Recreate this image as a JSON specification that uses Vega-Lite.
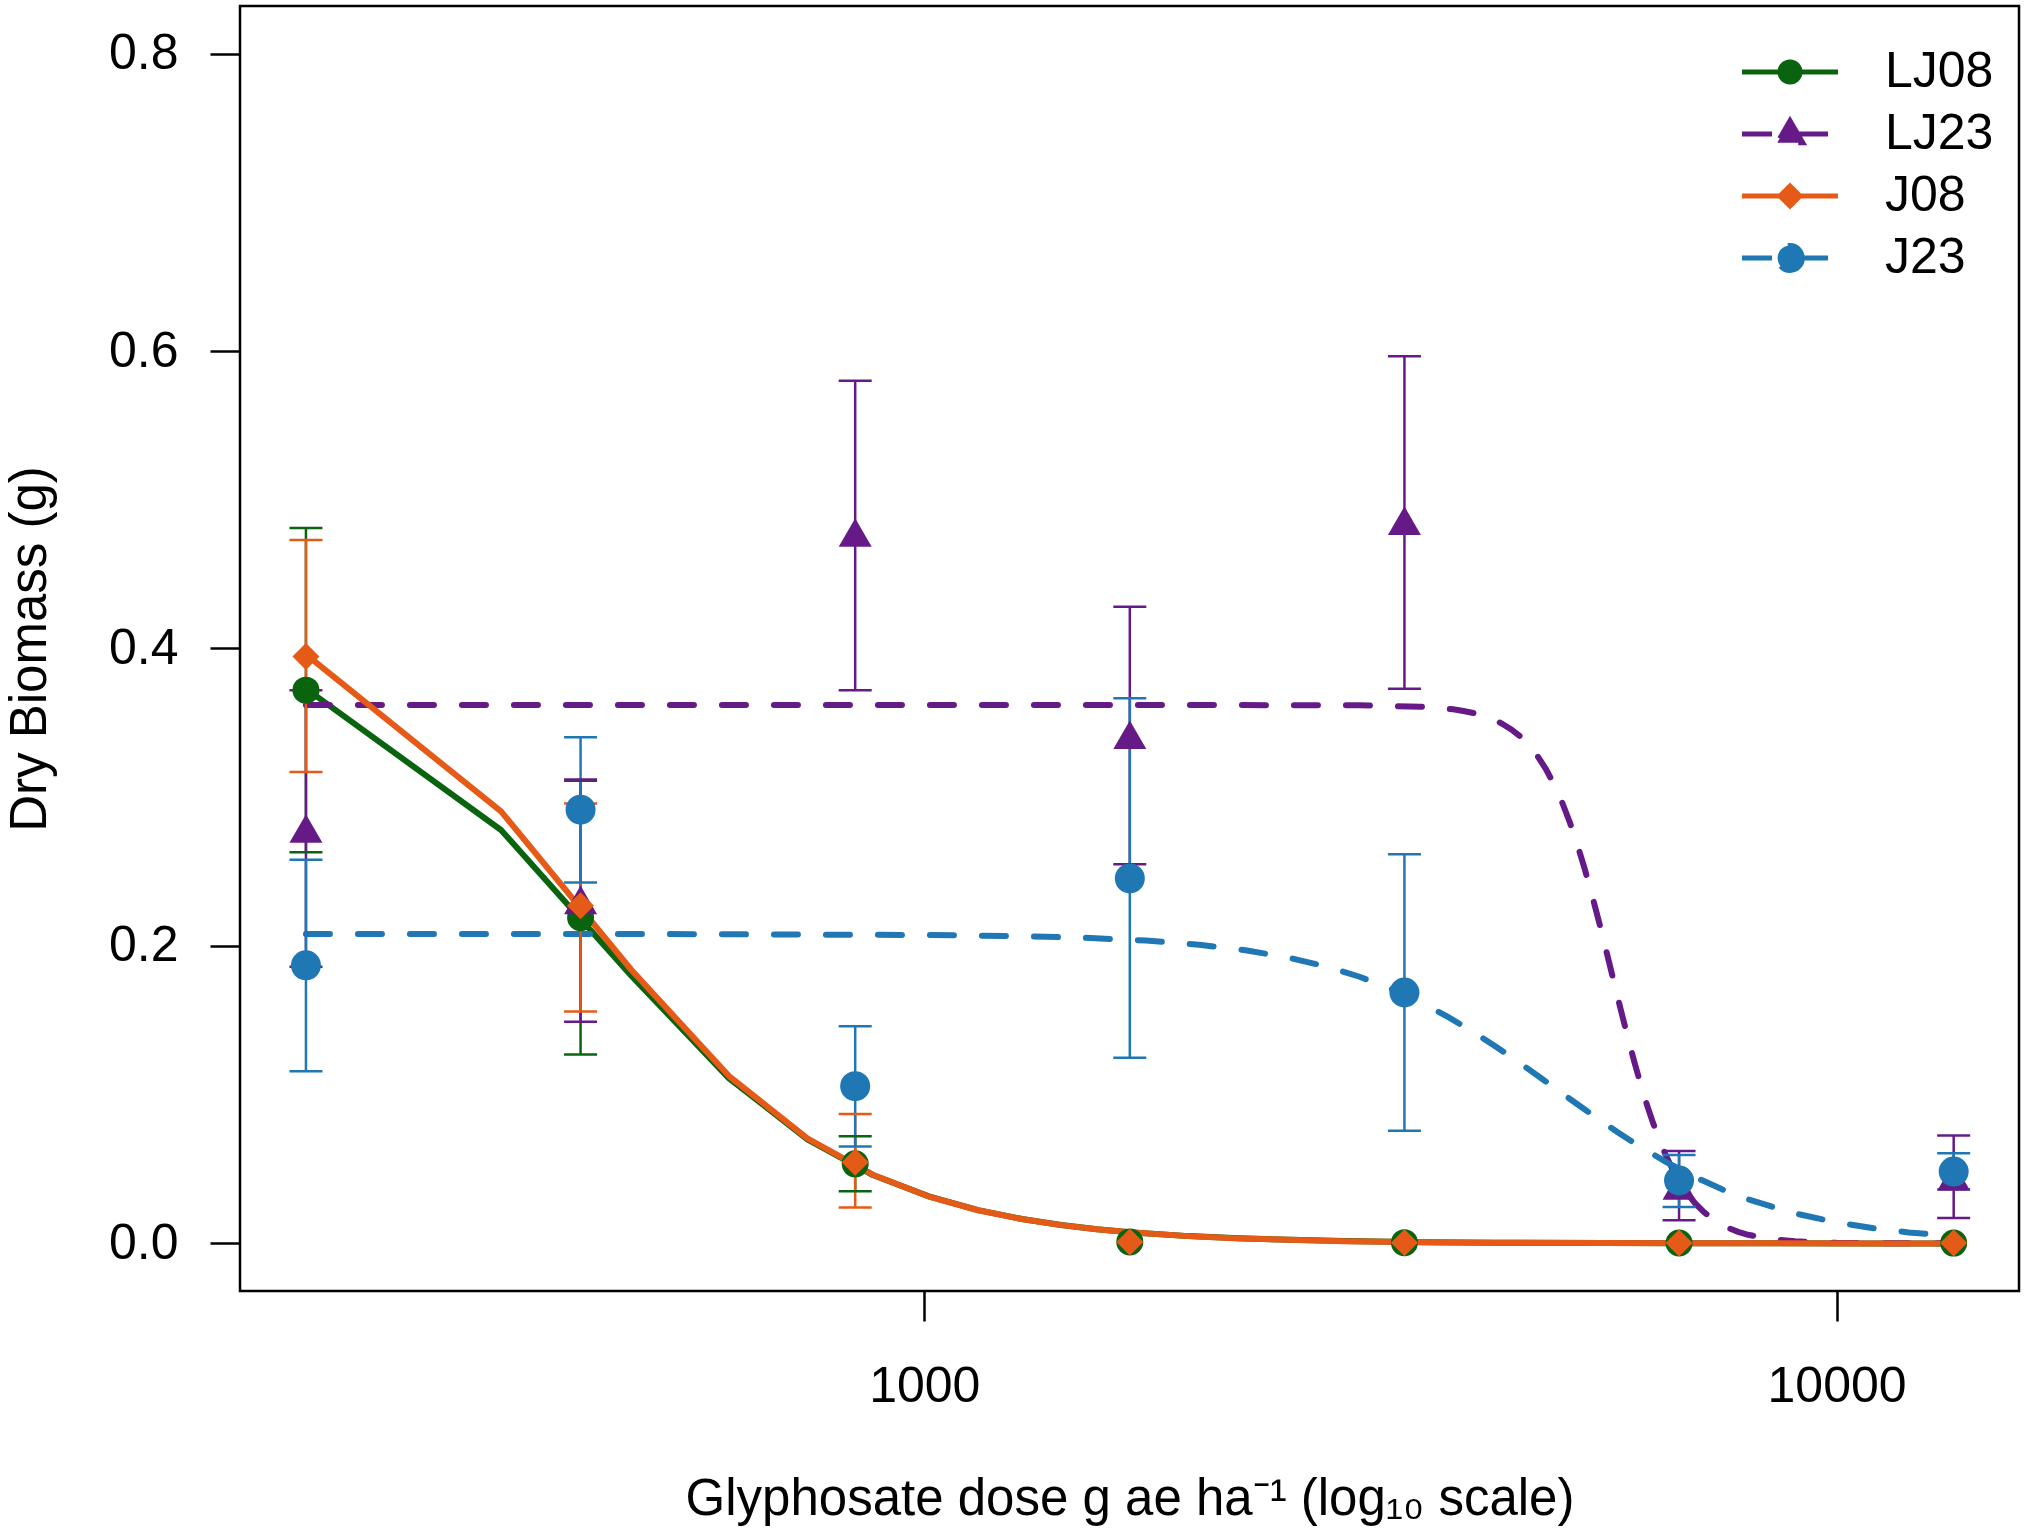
{
  "$schema": "https://vega.github.io/schema/vega-lite/v6.json",
  "width": 1779,
  "height": 1285,
  "autosize": {"type": "none"},
  "padding": {"left": 240, "top": 6, "right": 6, "bottom": 242},
  "background": "white",
  "config": {
    "font": "Liberation Sans",
    "view": {"stroke": "black", "strokeWidth": 2.5},
    "axis": {
      "labelFont": "Liberation Sans", "titleFont": "Liberation Sans",
      "labelFontSize": 50, "titleFontSize": 51, "titleFontWeight": "normal",
      "labelColor": "black", "titleColor": "black", "tickColor": "black",
      "tickWidth": 2.5, "tickSize": 30, "domain": false, "grid": false
    }
  },
  "datasets": {
    "pts": [
      {"series": "LJ08", "dose": 210, "mean": 0.372, "lo": 0.263, "hi": 0.481},
      {"series": "LJ08", "dose": 420, "mean": 0.219, "lo": 0.127, "hi": 0.311},
      {"series": "LJ08", "dose": 840, "mean": 0.0535, "lo": 0.035, "hi": 0.072},
      {"series": "LJ08", "dose": 1680, "mean": 0.001, "lo": null, "hi": null},
      {"series": "LJ08", "dose": 3360, "mean": 0.0005, "lo": null, "hi": null},
      {"series": "LJ08", "dose": 6720, "mean": 0.0003, "lo": null, "hi": null},
      {"series": "LJ08", "dose": 13440, "mean": 0.0002, "lo": null, "hi": null},
      {"series": "LJ23", "dose": 210, "mean": 0.279, "lo": 0.186, "hi": 0.372},
      {"series": "LJ23", "dose": 420, "mean": 0.231, "lo": 0.149, "hi": 0.312},
      {"series": "LJ23", "dose": 840, "mean": 0.478, "lo": 0.372, "hi": 0.58},
      {"series": "LJ23", "dose": 1680, "mean": 0.342, "lo": 0.255, "hi": 0.428},
      {"series": "LJ23", "dose": 3360, "mean": 0.486, "lo": 0.373, "hi": 0.5965},
      {"series": "LJ23", "dose": 6720, "mean": 0.039, "lo": 0.0156, "hi": 0.0622},
      {"series": "LJ23", "dose": 13440, "mean": 0.045, "lo": 0.0171, "hi": 0.0725},
      {"series": "J08", "dose": 210, "mean": 0.3946, "lo": 0.317, "hi": 0.473},
      {"series": "J08", "dose": 420, "mean": 0.227, "lo": 0.156, "hi": 0.2957},
      {"series": "J08", "dose": 840, "mean": 0.0545, "lo": 0.0242, "hi": 0.087},
      {"series": "J08", "dose": 1680, "mean": 0.001, "lo": null, "hi": null},
      {"series": "J08", "dose": 3360, "mean": 0.0005, "lo": null, "hi": null},
      {"series": "J08", "dose": 6720, "mean": 0.0003, "lo": null, "hi": null},
      {"series": "J08", "dose": 13440, "mean": 0.0002, "lo": null, "hi": null},
      {"series": "J23", "dose": 210, "mean": 0.187, "lo": 0.1157, "hi": 0.258},
      {"series": "J23", "dose": 420, "mean": 0.2916, "lo": 0.2427, "hi": 0.3403},
      {"series": "J23", "dose": 840, "mean": 0.1057, "lo": 0.0652, "hi": 0.146},
      {"series": "J23", "dose": 1680, "mean": 0.2454, "lo": 0.1248, "hi": 0.3665},
      {"series": "J23", "dose": 3360, "mean": 0.1687, "lo": 0.0757, "hi": 0.2617},
      {"series": "J23", "dose": 6720, "mean": 0.0423, "lo": 0.0245, "hi": 0.0595},
      {"series": "J23", "dose": 13440, "mean": 0.0483, "lo": 0.0364, "hi": 0.0607}
    ],
    "fit": [
      {"series": "LJ08", "dose": 210, "fit": 0.373},
      {"series": "LJ08", "dose": 343.6, "fit": 0.278},
      {"series": "LJ08", "dose": 477.3, "fit": 0.18},
      {"series": "LJ08", "dose": 610.9, "fit": 0.111},
      {"series": "LJ08", "dose": 744.5, "fit": 0.07},
      {"series": "LJ08", "dose": 878.2, "fit": 0.046},
      {"series": "LJ08", "dose": 1011.8, "fit": 0.0316},
      {"series": "LJ08", "dose": 1145.5, "fit": 0.0224},
      {"series": "LJ08", "dose": 1279.1, "fit": 0.0164},
      {"series": "LJ08", "dose": 1412.7, "fit": 0.0124},
      {"series": "LJ08", "dose": 1546.4, "fit": 0.0095},
      {"series": "LJ08", "dose": 1680, "fit": 0.0075},
      {"series": "LJ08", "dose": 1947.3, "fit": 0.0049},
      {"series": "LJ08", "dose": 2214.5, "fit": 0.0034},
      {"series": "LJ08", "dose": 2882.7, "fit": 0.0016},
      {"series": "LJ08", "dose": 3550.9, "fit": 0.0008},
      {"series": "LJ08", "dose": 4219.1, "fit": 0.0005},
      {"series": "LJ08", "dose": 5555.5, "fit": 0.0002},
      {"series": "LJ08", "dose": 6891.8, "fit": 0.0001},
      {"series": "LJ08", "dose": 8228.2, "fit": 0.0001},
      {"series": "LJ08", "dose": 10900.9, "fit": 0},
      {"series": "LJ08", "dose": 13440, "fit": 0},
      {"series": "J08", "dose": 210, "fit": 0.396},
      {"series": "J08", "dose": 343.6, "fit": 0.2905},
      {"series": "J08", "dose": 477.3, "fit": 0.184},
      {"series": "J08", "dose": 610.9, "fit": 0.1125},
      {"series": "J08", "dose": 744.5, "fit": 0.0706},
      {"series": "J08", "dose": 878.2, "fit": 0.0462},
      {"series": "J08", "dose": 1011.8, "fit": 0.0315},
      {"series": "J08", "dose": 1145.5, "fit": 0.0223},
      {"series": "J08", "dose": 1279.1, "fit": 0.0164},
      {"series": "J08", "dose": 1412.7, "fit": 0.0123},
      {"series": "J08", "dose": 1546.4, "fit": 0.0095},
      {"series": "J08", "dose": 1680, "fit": 0.0075},
      {"series": "J08", "dose": 1947.3, "fit": 0.0049},
      {"series": "J08", "dose": 2214.5, "fit": 0.0033},
      {"series": "J08", "dose": 2882.7, "fit": 0.0015},
      {"series": "J08", "dose": 3550.9, "fit": 0.0008},
      {"series": "J08", "dose": 4219.1, "fit": 0.0005},
      {"series": "J08", "dose": 5555.5, "fit": 0.0002},
      {"series": "J08", "dose": 6891.8, "fit": 0.0001},
      {"series": "J08", "dose": 8228.2, "fit": 0.0001},
      {"series": "J08", "dose": 10900.9, "fit": 0},
      {"series": "J08", "dose": 13440, "fit": 0},
      {"series": "LJ23", "dose": 210, "fit": 0.362},
      {"series": "LJ23", "dose": 1000, "fit": 0.362},
      {"series": "LJ23", "dose": 2000, "fit": 0.362},
      {"series": "LJ23", "dose": 3000, "fit": 0.3618},
      {"series": "LJ23", "dose": 3500, "fit": 0.3609},
      {"series": "LJ23", "dose": 3800, "fit": 0.3591},
      {"series": "LJ23", "dose": 3900, "fit": 0.358},
      {"series": "LJ23", "dose": 4000, "fit": 0.3566},
      {"series": "LJ23", "dose": 4100, "fit": 0.3548},
      {"series": "LJ23", "dose": 4200, "fit": 0.3525},
      {"series": "LJ23", "dose": 4300, "fit": 0.3494},
      {"series": "LJ23", "dose": 4400, "fit": 0.3456},
      {"series": "LJ23", "dose": 4500, "fit": 0.3409},
      {"series": "LJ23", "dose": 4600, "fit": 0.335},
      {"series": "LJ23", "dose": 4700, "fit": 0.3278},
      {"series": "LJ23", "dose": 4800, "fit": 0.3191},
      {"series": "LJ23", "dose": 4900, "fit": 0.3088},
      {"series": "LJ23", "dose": 5000, "fit": 0.2969},
      {"series": "LJ23", "dose": 5100, "fit": 0.2832},
      {"series": "LJ23", "dose": 5200, "fit": 0.2679},
      {"series": "LJ23", "dose": 5300, "fit": 0.2511},
      {"series": "LJ23", "dose": 5400, "fit": 0.2331},
      {"series": "LJ23", "dose": 5500, "fit": 0.2144},
      {"series": "LJ23", "dose": 5600, "fit": 0.1952},
      {"series": "LJ23", "dose": 5700, "fit": 0.176},
      {"series": "LJ23", "dose": 5800, "fit": 0.1573},
      {"series": "LJ23", "dose": 5900, "fit": 0.1393},
      {"series": "LJ23", "dose": 6000, "fit": 0.1225},
      {"series": "LJ23", "dose": 6100, "fit": 0.1069},
      {"series": "LJ23", "dose": 6200, "fit": 0.0928},
      {"series": "LJ23", "dose": 6300, "fit": 0.0802},
      {"series": "LJ23", "dose": 6400, "fit": 0.069},
      {"series": "LJ23", "dose": 6500, "fit": 0.0592},
      {"series": "LJ23", "dose": 6600, "fit": 0.0507},
      {"series": "LJ23", "dose": 6700, "fit": 0.0433},
      {"series": "LJ23", "dose": 6800, "fit": 0.037},
      {"series": "LJ23", "dose": 6900, "fit": 0.0316},
      {"series": "LJ23", "dose": 7000, "fit": 0.0269},
      {"series": "LJ23", "dose": 7150, "fit": 0.0212},
      {"series": "LJ23", "dose": 7300, "fit": 0.0168},
      {"series": "LJ23", "dose": 7450, "fit": 0.0133},
      {"series": "LJ23", "dose": 7600, "fit": 0.0105},
      {"series": "LJ23", "dose": 7800, "fit": 0.0078},
      {"series": "LJ23", "dose": 8000, "fit": 0.0058},
      {"series": "LJ23", "dose": 8500, "fit": 0.0028},
      {"series": "LJ23", "dose": 9000, "fit": 0.0014},
      {"series": "LJ23", "dose": 10000, "fit": 0.0004},
      {"series": "LJ23", "dose": 11000, "fit": 0.0002},
      {"series": "LJ23", "dose": 12000, "fit": 0.0001},
      {"series": "LJ23", "dose": 13440, "fit": 0},
      {"series": "J23", "dose": 210, "fit": 0.208},
      {"series": "J23", "dose": 500, "fit": 0.208},
      {"series": "J23", "dose": 1000, "fit": 0.2074},
      {"series": "J23", "dose": 1250, "fit": 0.2067},
      {"series": "J23", "dose": 1500, "fit": 0.2055},
      {"series": "J23", "dose": 1750, "fit": 0.2036},
      {"series": "J23", "dose": 2000, "fit": 0.2008},
      {"series": "J23", "dose": 2250, "fit": 0.1971},
      {"series": "J23", "dose": 2500, "fit": 0.1923},
      {"series": "J23", "dose": 2750, "fit": 0.1864},
      {"series": "J23", "dose": 3000, "fit": 0.1793},
      {"series": "J23", "dose": 3250, "fit": 0.1712},
      {"series": "J23", "dose": 3500, "fit": 0.1621},
      {"series": "J23", "dose": 3750, "fit": 0.1523},
      {"series": "J23", "dose": 4000, "fit": 0.1421},
      {"series": "J23", "dose": 4250, "fit": 0.1316},
      {"series": "J23", "dose": 4500, "fit": 0.1211},
      {"series": "J23", "dose": 4750, "fit": 0.1109},
      {"series": "J23", "dose": 5000, "fit": 0.101},
      {"series": "J23", "dose": 5250, "fit": 0.0917},
      {"series": "J23", "dose": 5500, "fit": 0.083},
      {"series": "J23", "dose": 5750, "fit": 0.0749},
      {"series": "J23", "dose": 6000, "fit": 0.0676},
      {"series": "J23", "dose": 6500, "fit": 0.0548},
      {"series": "J23", "dose": 7000, "fit": 0.0445},
      {"series": "J23", "dose": 7500, "fit": 0.0362},
      {"series": "J23", "dose": 8000, "fit": 0.0296},
      {"series": "J23", "dose": 9000, "fit": 0.0202},
      {"series": "J23", "dose": 10000, "fit": 0.0141},
      {"series": "J23", "dose": 11000, "fit": 0.0101},
      {"series": "J23", "dose": 12000, "fit": 0.0074},
      {"series": "J23", "dose": 13440, "fit": 0.0049}
    ]
  },
  "encoding": {
    "x": {
      "field": "dose", "type": "quantitative",
      "title": "Glyphosate dose g ae ha⁻¹ (log₁₀ scale)",
      "scale": {"type": "log", "domain": [177.8, 15849], "nice": false},
      "axis": {"values": [1000, 10000], "format": "d", "labelPadding": 40, "titlePadding": 63, "labelFlush": false, "labelOverlap": false}
    }
  },
  "layer": [
    {
      "data": {"name": "fit"},
      "transform": [{"filter": "datum.series === 'LJ08'"}],
      "mark": {"type": "line", "color": "#0A640F", "strokeWidth": 6, "strokeCap": "round", "strokeJoin": "round"},
      "encoding": {
        "y": {
          "field": "fit", "type": "quantitative", "title": "Dry Biomass (g)",
          "scale": {"domain": [-0.032, 0.832], "nice": false, "zero": false},
          "axis": {"values": [0, 0.2, 0.4, 0.6, 0.8], "format": ".1f", "labelPadding": 32, "titlePadding": 52}
        }
      }
    },
    {
      "data": {"name": "fit"},
      "transform": [{"filter": "datum.series === 'LJ23'"}],
      "mark": {"type": "line", "color": "#661A88", "strokeWidth": 6, "strokeCap": "round", "strokeDash": [24, 28]},
      "encoding": {
        "y": {"field": "fit", "type": "quantitative", "title": "Dry Biomass (g)"}
      }
    },
    {
      "data": {"name": "fit"},
      "transform": [{"filter": "datum.series === 'J08'"}],
      "mark": {"type": "line", "color": "#E65A17", "strokeWidth": 6, "strokeCap": "round", "strokeJoin": "round"},
      "encoding": {
        "y": {"field": "fit", "type": "quantitative", "title": "Dry Biomass (g)"}
      }
    },
    {
      "data": {"name": "fit"},
      "transform": [{"filter": "datum.series === 'J23'"}],
      "mark": {"type": "line", "color": "#1F77B4", "strokeWidth": 6, "strokeCap": "round", "strokeDash": [24, 28]},
      "encoding": {
        "y": {"field": "fit", "type": "quantitative", "title": "Dry Biomass (g)"}
      }
    },
    {
      "data": {"name": "pts"},
      "mark": {"type": "rule", "strokeWidth": 2.5},
      "encoding": {
        "y": {"field": "lo", "type": "quantitative", "title": "Dry Biomass (g)"},
        "y2": {"field": "hi"},
        "color": {"field": "series", "type": "nominal", "legend": null,
          "scale": {"domain": ["J08", "J23", "LJ08", "LJ23"], "range": ["#E65A17", "#1F77B4", "#0A640F", "#661A88"]}}
      }
    },
    {
      "data": {"name": "pts"},
      "mark": {"type": "tick", "orient": "horizontal", "size": 33, "thickness": 2.5, "opacity": 1},
      "encoding": {
        "y": {"field": "lo", "type": "quantitative", "title": "Dry Biomass (g)"},
        "color": {"field": "series", "type": "nominal", "legend": null}
      }
    },
    {
      "data": {"name": "pts"},
      "mark": {"type": "tick", "orient": "horizontal", "size": 33, "thickness": 2.5, "opacity": 1},
      "encoding": {
        "y": {"field": "hi", "type": "quantitative", "title": "Dry Biomass (g)"},
        "color": {"field": "series", "type": "nominal", "legend": null}
      }
    },
    {
      "data": {"name": "pts"},
      "transform": [{"filter": "datum.series === 'LJ08'"}],
      "mark": {"type": "point", "filled": true, "opacity": 1, "shape": "circle", "size": 729, "color": "#0A640F"},
      "encoding": {"y": {"field": "mean", "type": "quantitative", "title": "Dry Biomass (g)"}}
    },
    {
      "data": {"name": "pts"},
      "transform": [{"filter": "datum.series === 'LJ23'"}],
      "mark": {"type": "point", "filled": true, "opacity": 1, "shape": "triangle-up", "size": 1089, "color": "#661A88"},
      "encoding": {"y": {"field": "mean", "type": "quantitative", "title": "Dry Biomass (g)"}}
    },
    {
      "data": {"name": "pts"},
      "transform": [{"filter": "datum.series === 'J08'"}],
      "mark": {"type": "point", "filled": true, "opacity": 1, "shape": "diamond", "size": 729, "color": "#E65A17"},
      "encoding": {"y": {"field": "mean", "type": "quantitative", "title": "Dry Biomass (g)"}}
    },
    {
      "data": {"name": "pts"},
      "transform": [{"filter": "datum.series === 'J23'"}],
      "mark": {"type": "point", "filled": true, "opacity": 1, "shape": "circle", "size": 900, "color": "#1F77B4"},
      "encoding": {"y": {"field": "mean", "type": "quantitative", "title": "Dry Biomass (g)"}}
    },
    {
      "data": {"name": "pts"},
      "transform": [{"filter": "datum.dose === 210"}],
      "mark": {"type": "point", "size": 0, "strokeWidth": 5, "opacity": 1, "fillOpacity": 1, "strokeOpacity": 1},
      "encoding": {
        "y": {"field": "mean", "type": "quantitative", "title": "Dry Biomass (g)"},
        "fill": {"field": "series", "type": "nominal",
          "scale": {"domain": ["LJ08", "LJ23", "J08", "J23"], "range": ["#0A640F", "#661A88", "#E65A17", "#1F77B4"]},
          "legend": {
            "orient": "none", "legendX": 1525, "legendY": 41, "direction": "vertical",
            "title": null, "padding": 0,
            "labelFont": "Liberation Sans", "labelFontSize": 50, "labelColor": "black", "labelLimit": 400,
            "symbolSize": 1600, "symbolStrokeWidth": 5, "symbolOpacity": 1, "labelOffset": 70, "rowPadding": 12
          }
        },
        "stroke": {"field": "series", "type": "nominal",
          "scale": {"domain": ["LJ08", "LJ23", "J08", "J23"], "range": ["#0A640F", "#661A88", "#E65A17", "#1F77B4"]}},
        "shape": {"field": "series", "type": "nominal",
          "scale": {"domain": ["LJ08", "LJ23", "J08", "J23"], "range": [
            "M-2.4,0L2.4,0M0.5,0A0.5,0.5,0,1,1,-0.5,0A0.5,0.5,0,1,1,0.5,0Z",
            "M-2.4,0L2.4,0M0,-0.66L0.64,0.44L-0.64,0.44Z",
            "M-2.4,0L2.4,0M0,-0.5L0.5,0L0,0.5L-0.5,0Z",
            "M-2.4,0L2.4,0M0.62,0A0.62,0.62,0,1,1,-0.62,0A0.62,0.62,0,1,1,0.62,0Z"
          ]}},
        "strokeDash": {"field": "series", "type": "nominal",
          "scale": {"domain": ["LJ08", "LJ23", "J08", "J23"], "range": [[1, 0], [30, 26], [1, 0], [30, 26]]}}
      }
    }
  ]
}
